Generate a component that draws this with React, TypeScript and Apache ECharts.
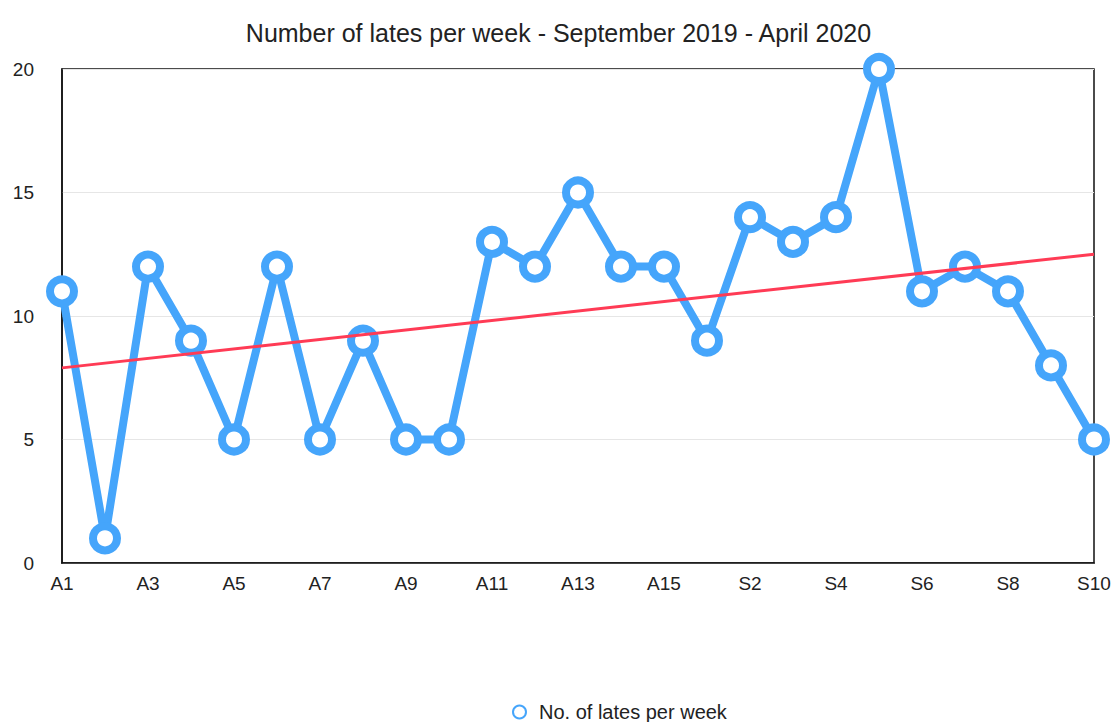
import React, { useEffect, useRef } from "react";
import * as echarts from "echarts";

const categories = [
  "A1", "A2", "A3", "A4", "A5", "A6", "A7", "A8", "A9", "A10",
  "A11", "A12", "A13", "A14", "A15",
  "S1", "S2", "S3", "S4", "S5", "S6", "S7", "S8", "S9", "S10",
];
const lates = [11, 1, 12, 9, 5, 12, 5, 9, 5, 5, 13, 12, 15, 12, 12, 9, 14, 13, 14, 20, 11, 12, 11, 8, 5];
const trendStart = 7.9;
const trendEnd = 12.5;
const yTicks = [0, 5, 10, 15, 20];

export default function App() {
  const ref = useRef<HTMLDivElement>(null);
  useEffect(() => {
    if (!ref.current) return;
    const chart = echarts.init(ref.current, undefined, { renderer: "svg" });
    const font = "'Liberation Sans', Arial, Helvetica, sans-serif";
    chart.setOption({
      animation: false,
      textStyle: { fontFamily: font },
      title: {
        text: "Number of lates per week - September 2019 - April 2020",
        left: "center",
        top: 15,
        textStyle: { fontSize: 25, fontWeight: "normal", color: "#222", fontFamily: font },
      },
      legend: {
        bottom: 0,
        left: 512,
        padding: 0,
        data: [{ name: "No. of lates per week", icon: "circle" }],
        itemWidth: 13,
        itemHeight: 13,
        textStyle: { fontSize: 20, color: "#222", fontFamily: font, padding: [0, 0, 0, 8] },
      },
      grid: {
        left: 62,
        right: 23,
        top: 69,
        bottom: 159,
        show: true,
        borderColor: "#111",
        borderWidth: 1.5,
        containLabel: false,
      },
      xAxis: {
        type: "category",
        data: categories,
        boundaryGap: false,
        axisLine: { show: true, lineStyle: { color: "#111", width: 1.5 } },
        axisTick: { show: false },
        axisLabel: { interval: 1, fontSize: 19, color: "#222", margin: 11, fontFamily: font },
        splitLine: { show: false },
      },
      yAxis: {
        type: "value",
        min: yTicks[0],
        max: yTicks[yTicks.length - 1],
        interval: 5,
        axisLine: { show: true, lineStyle: { color: "#111", width: 1.5 } },
        axisTick: { show: false },
        axisLabel: { fontSize: 19, color: "#222", margin: 28, fontFamily: font },
        splitLine: { show: true, lineStyle: { color: "#e6e6e6", width: 1 } },
      },
      series: [
        {
          name: "No. of lates per week",
          type: "line",
          data: lates,
          symbol: "circle",
          symbolSize: 24,
          lineStyle: { color: "#45a5fb", width: 8 },
          itemStyle: { color: "#ffffff", borderColor: "#45a5fb", borderWidth: 8 },
          z: 3,
          markLine: {
            silent: true,
            symbol: ["none", "none"],
            label: { show: false },
            lineStyle: { color: "#ff3b55", width: 3, type: "solid" },
            data: [
              [
                { coord: [categories[0], trendStart] },
                { coord: [categories[categories.length - 1], trendEnd] },
              ],
            ],
            z: 4,
          },
        },
      ],
    });
    return () => chart.dispose();
  }, []);
  return <div ref={ref} style={{ width: 1117, height: 722, position: "absolute", left: 0, top: 0 }} />;
}
